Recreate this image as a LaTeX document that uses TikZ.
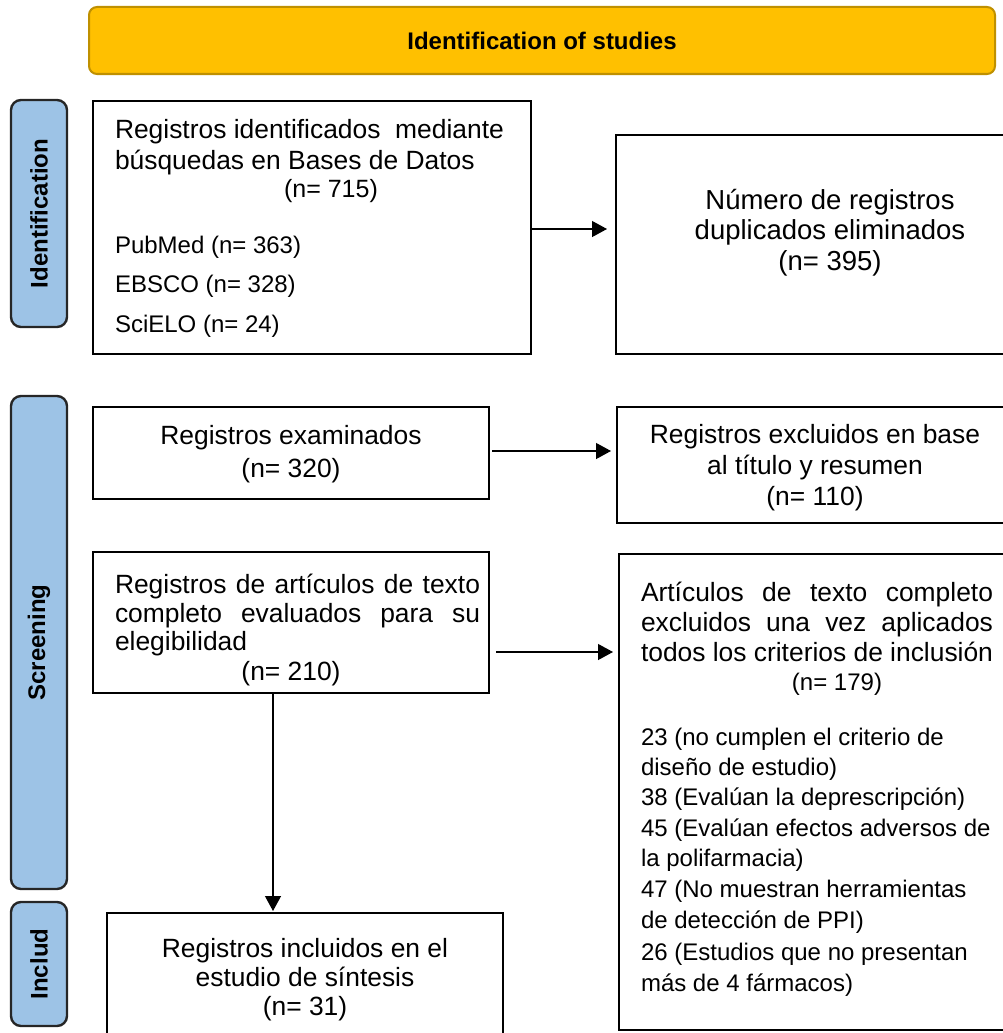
\documentclass[tikz,border=0pt]{standalone}
\usepackage{fontspec}
\setmainfont{Liberation Sans}
\usetikzlibrary{arrows.meta}
\definecolor{bannerfill}{HTML}{FFC000}
\definecolor{bannerdraw}{HTML}{BF9000}
\definecolor{labfill}{HTML}{9DC3E6}
\definecolor{labdraw}{HTML}{262626}
\begin{document}
\begin{tikzpicture}[x=1pt,y=-1pt,
  box/.style={draw=black, line width=2pt, rectangle, anchor=north west, inner sep=0pt, outer sep=0pt},
  banner/.style={draw=bannerdraw, fill=bannerfill, line width=2pt, rounded corners=8pt, inner sep=0pt, outer sep=0pt, font=\bfseries\fontsize{24}{28}\selectfont},
  lab/.style={draw=labdraw, fill=labfill, line width=2.4pt, rounded corners=10pt, rotate=90, minimum height=56pt, inner sep=0pt, outer sep=0pt, font=\bfseries\fontsize{24}{28}\selectfont},
  t/.style={inner sep=0pt, outer sep=0pt, anchor=base west, font=\fontsize{26.4}{30}\selectfont},
  tc/.style={t, anchor=base},
  tb/.style={tc, font=\fontsize{27.5}{30}\selectfont},
  ts/.style={t, font=\fontsize{24}{28}\selectfont},
  tsc/.style={ts, anchor=base},
  arr/.style={draw=black, line width=1.2pt, -{Triangle[length=15pt,width=16pt]}}
]
\clip (0,0) rectangle (1003,1033);
% banner
\node[banner, minimum width=906pt, minimum height=67pt] (ban) at (542,40.5) {Identification of studies};
% side labels
\node[lab, minimum width=227pt] (lid) at (39,213.5) {Identification};
\node[lab, minimum width=493pt] (lsc) at (39,642.5) {Screening};
\node[lab, minimum width=124pt] (lin) at (39,964) {Includ};
% boxes
\node[box, minimum width=438pt, minimum height=253pt] (b1) at (93,101) {};
\node[box, minimum width=429pt, minimum height=219pt] (b2) at (616,135) {};
\node[box, minimum width=396pt, minimum height=92pt] (b3) at (93,407) {};
\node[box, minimum width=428pt, minimum height=116pt] (b4) at (617,407) {};
\node[box, minimum width=396pt, minimum height=141pt] (b5) at (93,552) {};
\node[box, minimum width=426pt, minimum height=476pt] (b6) at (619,554) {};
\node[box, minimum width=396pt, minimum height=150pt] (b7) at (107,913) {};
% box 1 text
\node[t] (b1l1) at (115,138.5) {Registros identificados\ \ mediante};
\node[t] (b1l2) at (115,169.5) {búsquedas en Bases de Datos};
\node[tc, font=\fontsize{25}{28}\selectfont] (b1n) at (331,197) {(n= 715)};
\node[ts] (b1p) at (115,253.5) {PubMed (n= 363)};
\node[ts] (b1e) at (115,292.5) {EBSCO (n= 328)};
\node[ts] (b1s) at (115,332.5) {SciELO (n= 24)};
% box 2 text
\node[tb] (b2l1) at (830,209) {Número de registros};
\node[tb] (b2l2) at (830,239) {duplicados eliminados};
\node[tb] (b2l3) at (830,270) {(n= 395)};
% box 3 text
\node[tc] (b3l1) at (291,444) {Registros examinados};
\node[tc] (b3l2) at (291,477) {(n= 320)};
% box 4 text
\node[tc] (b4l1) at (815,443) {Registros excluidos en base};
\node[tc] (b4l2) at (815,474) {al título y resumen};
\node[tc] (b4l3) at (815,505) {(n= 110)};
% box 5 text
\node[t] (b5l1) at (115,593) {\makebox[365pt][s]{Registros de artículos de texto}};
\node[t] (b5l2) at (115,622) {\makebox[365pt][s]{completo evaluados para su}};
\node[t] (b5l3) at (115,650) {elegibilidad};
\node[tc] (b5l4) at (291,680) {(n= 210)};
% box 6 text
\node[t] (b6l1) at (641,601) {\makebox[352pt][s]{Artículos de texto completo}};
\node[t] (b6l2) at (641,631) {\makebox[352pt][s]{excluidos una vez aplicados}};
\node[t] (b6l3) at (641,661) {\makebox[352pt][s]{todos los criterios de inclusión}};
\node[tsc] (b6n) at (837,690.5) {(n= 179)};
\node[ts] (b6a) at (641,745.6) {23 (no cumplen el criterio de};
\node[ts] (b6b) at (641,775.6) {diseño de estudio)};
\node[ts] (b6c) at (641,805.6) {38 (Evalúan la deprescripción)};
\node[ts] (b6d) at (641,836.6) {45 (Evalúan efectos adversos de};
\node[ts] (b6e) at (641,866.6) {la polifarmacia)};
\node[ts] (b6f) at (641,897.6) {47 (No muestran herramientas};
\node[ts] (b6g) at (641,928.6) {de detección de PPI)};
\node[ts] (b6h) at (641,960.6) {26 (Estudios que no presentan};
\node[ts] (b6i) at (641,991.6) {más de 4 fármacos)};
% box 7 text
\node[tc] (b7l1) at (305,957) {Registros incluidos en el};
\node[tc] (b7l2) at (305,986) {estudio de síntesis};
\node[tc] (b7l3) at (305,1015) {(n= 31)};
% arrows
\draw[arr, shorten >=9pt] ([yshift=-1.5pt]b1.east) -- ([yshift=-1.5pt]b1.east -| b2.west);
\draw[arr, shorten <=3pt, shorten >=6pt] ([yshift=2pt]b3.east) -- ([yshift=2pt]b3.east -| b4.west);
\draw[arr, shorten <=7pt, shorten >=6pt] ([yshift=-29.5pt]b5.east) -- ([yshift=-29.5pt]b5.east -| b6.west);
\draw[arr, shorten >=2pt] ([xshift=-18pt]b5.south) -- ([xshift=-18pt]b5.south |- b7.north);
\end{tikzpicture}
\end{document}
